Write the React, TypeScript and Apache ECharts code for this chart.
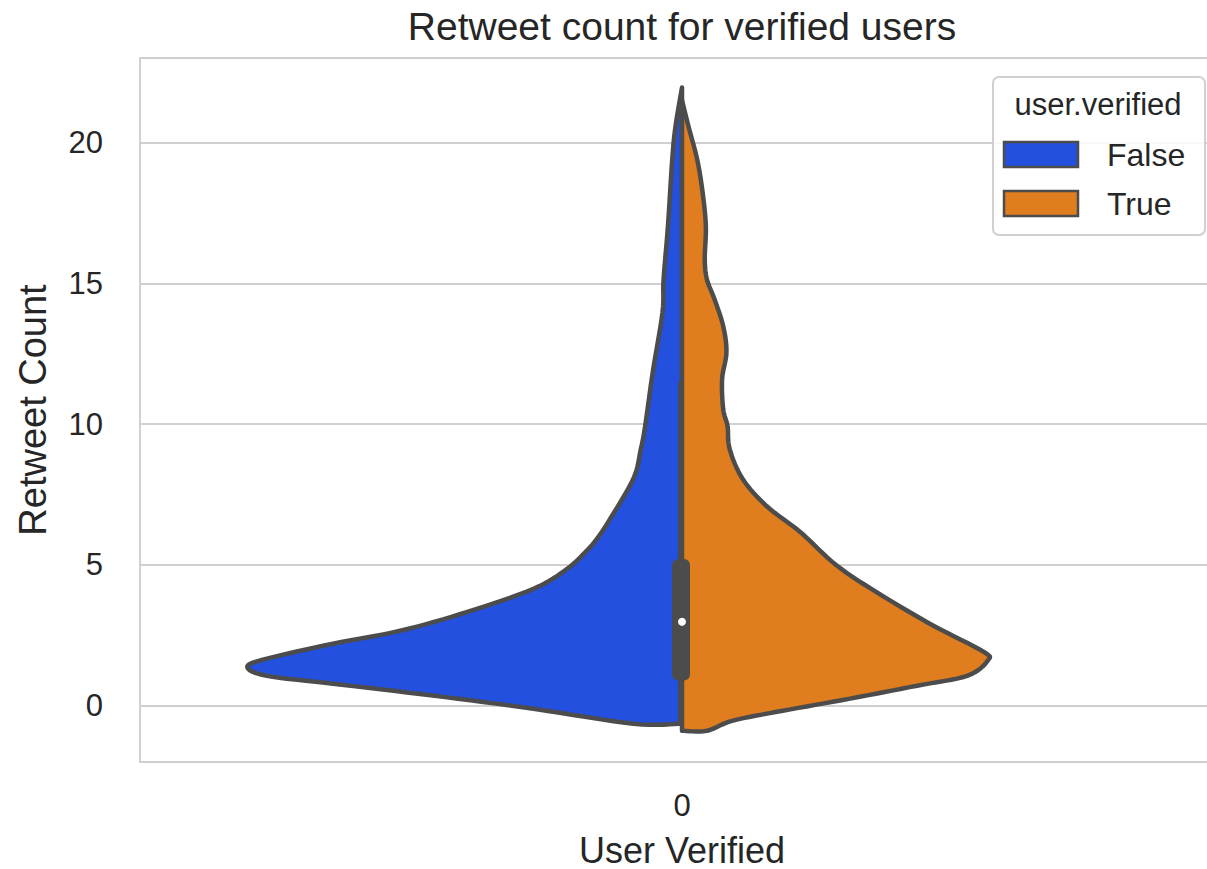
import React, { useEffect, useRef } from "react";
import * as echarts from "echarts";

// ---- data ----
const categories = ["0"];
const yTicks = [0, 5, 10, 15, 20];
const seriesNames = ["False", "True"];
const colors = ["#2350df", "#df7d1f"];

// False (left half): retweet values and half-widths (in category-band units)
const falseY = [-0.64, -0.64, -0.11, 0.36, 0.78, 1.06, 1.38, 1.67, 2.2, 2.66, 3.33, 4.15, 4.86, 5.5, 5.95, 6.53, 8.05, 9.11, 9.93, 11.84, 13.97, 15.14, 17.02, 19.4, 20.57, 21.95];
const falseW = [0, 0.045, 0.137, 0.23, 0.322, 0.383, 0.401, 0.383, 0.322, 0.26, 0.198, 0.137, 0.106, 0.088, 0.078, 0.068, 0.045, 0.038, 0.034, 0.027, 0.018, 0.017, 0.013, 0.009, 0.006, 0];

// True (right half)
const trueY = [-0.89, -0.89, -0.53, -0.18, 0.25, 0.71, 1.06, 1.6, 1.92, 2.84, 3.9, 4.97, 6.17, 7.09, 8.05, 9.11, 9.93, 10.53, 11.6, 12.55, 13.48, 14.43, 15.14, 15.85, 17.02, 18.23, 19.4, 20.57, 21.5];
const trueW = [0, 0.023, 0.047, 0.093, 0.155, 0.217, 0.263, 0.282, 0.278, 0.232, 0.185, 0.143, 0.109, 0.078, 0.056, 0.044, 0.042, 0.038, 0.037, 0.041, 0.038, 0.03, 0.023, 0.021, 0.022, 0.019, 0.014, 0.006, 0];

// inner box: [whiskerLow, q1, median, q3, whiskerHigh]
const boxStats = [-0.6, 0.89, 2.98, 5.21, 11.5];

const FONT = "'Liberation Sans', Arial, sans-serif";
const TEXT = "#262626";
const EDGE = "#4c4c4c";
const GRIDC = "#d0d0d0";

// Catmull-Rom smoothing of the outline in pixel space (rendering only)
function smoothPath(pts: number[][], steps: number): number[][] {
  const n = pts.length;
  const out: number[][] = [pts[0]];
  for (let i = 0; i < n - 1; i++) {
    const p0 = pts[Math.max(i - 1, 0)];
    const p1 = pts[i];
    const p2 = pts[i + 1];
    const p3 = pts[Math.min(i + 2, n - 1)];
    for (let s = 1; s <= steps; s++) {
      const t = s / steps;
      const t2 = t * t;
      const t3 = t2 * t;
      const f = (a: number, b: number, c: number, d: number) =>
        0.5 * (2 * b + (-a + c) * t + (2 * a - 5 * b + 4 * c - d) * t2 + (-a + 3 * b - 3 * c + d) * t3);
      out.push([f(p0[0], p1[0], p2[0], p3[0]), f(p0[1], p1[1], p2[1], p3[1])]);
    }
  }
  return out;
}

function violinRender(ys: number[], ws: number[], side: number, color: string) {
  return (params: any, api: any) => {
    const band = api.size([1, 0])[0];
    const pts = ys.map((y, i) => {
      const c = api.coord([0, y]);
      return [c[0] + side * ws[i] * band, c[1]];
    });
    return {
      type: "polygon",
      shape: { points: smoothPath(pts, 8) },
      style: { fill: color, stroke: EDGE, lineWidth: 4.5, lineJoin: "round" },
    };
  };
}

function boxRender(params: any, api: any) {
  const cx = api.coord([0, 0])[0] - 1;
  const py = (v: number) => api.coord([0, v])[1];
  const [lo, q1, med, q3, hi] = boxStats;
  return {
    type: "group",
    children: [
      {
        type: "line",
        shape: { x1: cx, y1: py(lo), x2: cx, y2: py(hi) },
        style: { stroke: EDGE, lineWidth: 6 },
      },
      {
        type: "rect",
        shape: { x: cx - 9, y: py(q3), width: 18, height: py(q1) - py(q3), r: 6 },
        style: { fill: EDGE },
      },
      {
        type: "circle",
        shape: { cx: cx + 1, cy: py(med), r: 4 },
        style: { fill: "#ffffff" },
      },
    ],
  };
}

export default function App() {
  const ref = useRef<HTMLDivElement>(null);
  useEffect(() => {
    if (!ref.current) return;
    const chart = echarts.init(ref.current, undefined, { renderer: "svg" });
    const legendItems: any[] = [];
    seriesNames.forEach((name, i) => {
      const y = 142 + i * 49;
      legendItems.push({
        type: "rect",
        shape: { x: 1004, y, width: 74, height: 25 },
        style: { fill: colors[i], stroke: EDGE, lineWidth: 2.5 },
        z: 101,
      });
      legendItems.push({
        type: "text",
        x: 1107,
        y: y + 13,
        style: {
          text: name,
          font: `32px ${FONT}`,
          fill: TEXT,
          textAlign: "left",
          textVerticalAlign: "middle",
        },
        z: 101,
      });
    });
    chart.setOption({
      animation: false,
      backgroundColor: "#ffffff",
      title: {
        text: "Retweet count for verified users",
        left: 682,
        top: 7,
        padding: 0,
        textAlign: "center",
        textStyle: { fontFamily: FONT, fontSize: 39, fontWeight: "normal", color: TEXT },
      },
      grid: {
        left: 140,
        top: 58,
        width: 1084,
        height: 704,
        show: true,
        borderColor: GRIDC,
        borderWidth: 2,
        backgroundColor: "#ffffff",
        outerBoundsMode: "none",
        containLabel: false,
      },
      xAxis: {
        type: "category",
        data: categories,
        axisLine: { show: false },
        axisTick: { show: false },
        splitLine: { show: false },
        axisLabel: { fontFamily: FONT, fontSize: 31, color: TEXT, margin: 28 },
        name: "User Verified",
        nameLocation: "middle",
        nameGap: 70,
        nameTextStyle: { fontFamily: FONT, fontSize: 36, color: TEXT },
      },
      yAxis: {
        type: "value",
        min: -2,
        max: 23,
        splitNumber: 5,
        axisLine: { show: false },
        axisTick: { show: false },
        splitLine: { show: true, lineStyle: { color: GRIDC, width: 2 } },
        axisLabel: {
          fontFamily: FONT,
          fontSize: 31,
          color: TEXT,
          margin: 37,
          showMinLabel: false,
          showMaxLabel: false,
          formatter: (v: number) => (yTicks.includes(v) ? String(v) : ""),
        },
        name: "Retweet Count",
        nameLocation: "middle",
        nameGap: 88,
        nameTextStyle: { fontFamily: FONT, fontSize: 38, color: TEXT },
      },
      series: [
        {
          name: seriesNames[0],
          type: "custom",
          data: [[0, 0]],
          renderItem: violinRender(falseY, falseW, -1, colors[0]),
          z: 2,
        },
        {
          name: seriesNames[1],
          type: "custom",
          data: [[0, 0]],
          renderItem: violinRender(trueY, trueW, 1, colors[1]),
          z: 2,
        },
        {
          name: "box",
          type: "custom",
          data: [[0, 0]],
          renderItem: boxRender,
          z: 3,
        },
      ],
      graphic: [
        {
          type: "rect",
          shape: { x: 993, y: 77, width: 212, height: 158, r: 6 },
          style: { fill: "rgba(255,255,255,0.85)", stroke: GRIDC, lineWidth: 2 },
          z: 100,
        },
        {
          type: "text",
          x: 1098,
          y: 104,
          style: {
            text: "user.verified",
            font: `31px ${FONT}`,
            fill: TEXT,
            textAlign: "center",
            textVerticalAlign: "middle",
          },
          z: 101,
        },
        ...legendItems,
      ],
    });
    return () => chart.dispose();
  }, []);
  return (
    <div
      ref={ref}
      style={{ position: "absolute", left: 0, top: 0, width: 1207, height: 869 }}
    />
  );
}
